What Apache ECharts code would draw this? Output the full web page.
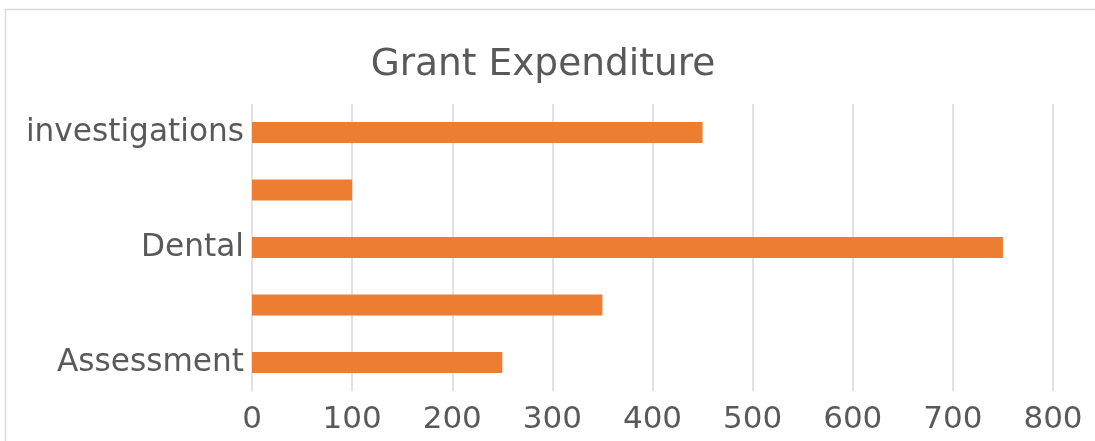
<!DOCTYPE html>
<html>
<head>
<meta charset="utf-8">
<script src="https://cdn.jsdelivr.net/npm/echarts@6/dist/echarts.min.js"></script>
<style>
html,body{margin:0;padding:0;background:#fff;}
#chart{width:1095px;height:441px;}
</style>
</head>
<body>
<div id="chart"></div>
<script>
var categories = ['Assessment', 'Equipment', 'Dental', 'Treatment', 'investigations'];
var values = [250, 350, 750, 100, 450];
var xTicks = [0, 100, 200, 300, 400, 500, 600, 700, 800];
var titleText = 'Grant Expenditure';

var chart = echarts.init(document.getElementById('chart'));
var font = 'DejaVu Sans';
chart.setOption({
  animation: false,
  backgroundColor: '#ffffff',
  graphic: [{
    type: 'rect',
    shape: {x: 5.5, y: 9.5, width: 1200, height: 600},
    style: {fill: 'none', stroke: '#d9d9d9', lineWidth: 1.5},
    silent: true
  }],
  title: {
    text: titleText,
    left: 538,
    top: 41,
    textAlign: 'center',
    textStyle: {fontFamily: font, fontSize: 37.5, fontWeight: 'normal', color: '#595959'}
  },
  grid: {left: 252, right: 42, top: 103.75, bottom: 49.75, containLabel: false},
  xAxis: {
    type: 'value',
    min: xTicks[0],
    max: xTicks[xTicks.length - 1],
    interval: xTicks[1] - xTicks[0],
    axisLine: {show: false},
    axisTick: {show: false},
    splitLine: {lineStyle: {color: '#d9d9d9', width: 1.5}},
    axisLabel: {fontFamily: font, fontSize: 31, color: '#595959', margin: 13}
  },
  yAxis: {
    type: 'category',
    data: categories,
    axisLine: {show: false},
    axisTick: {show: false},
    axisLabel: {fontFamily: font, fontSize: 31.2, color: '#595959', margin: 8, interval: 1}
  },
  series: [{
    type: 'bar',
    data: values,
    barWidth: 21,
    itemStyle: {color: '#ED7D31'}
  }]
});
</script>
</body>
</html>
